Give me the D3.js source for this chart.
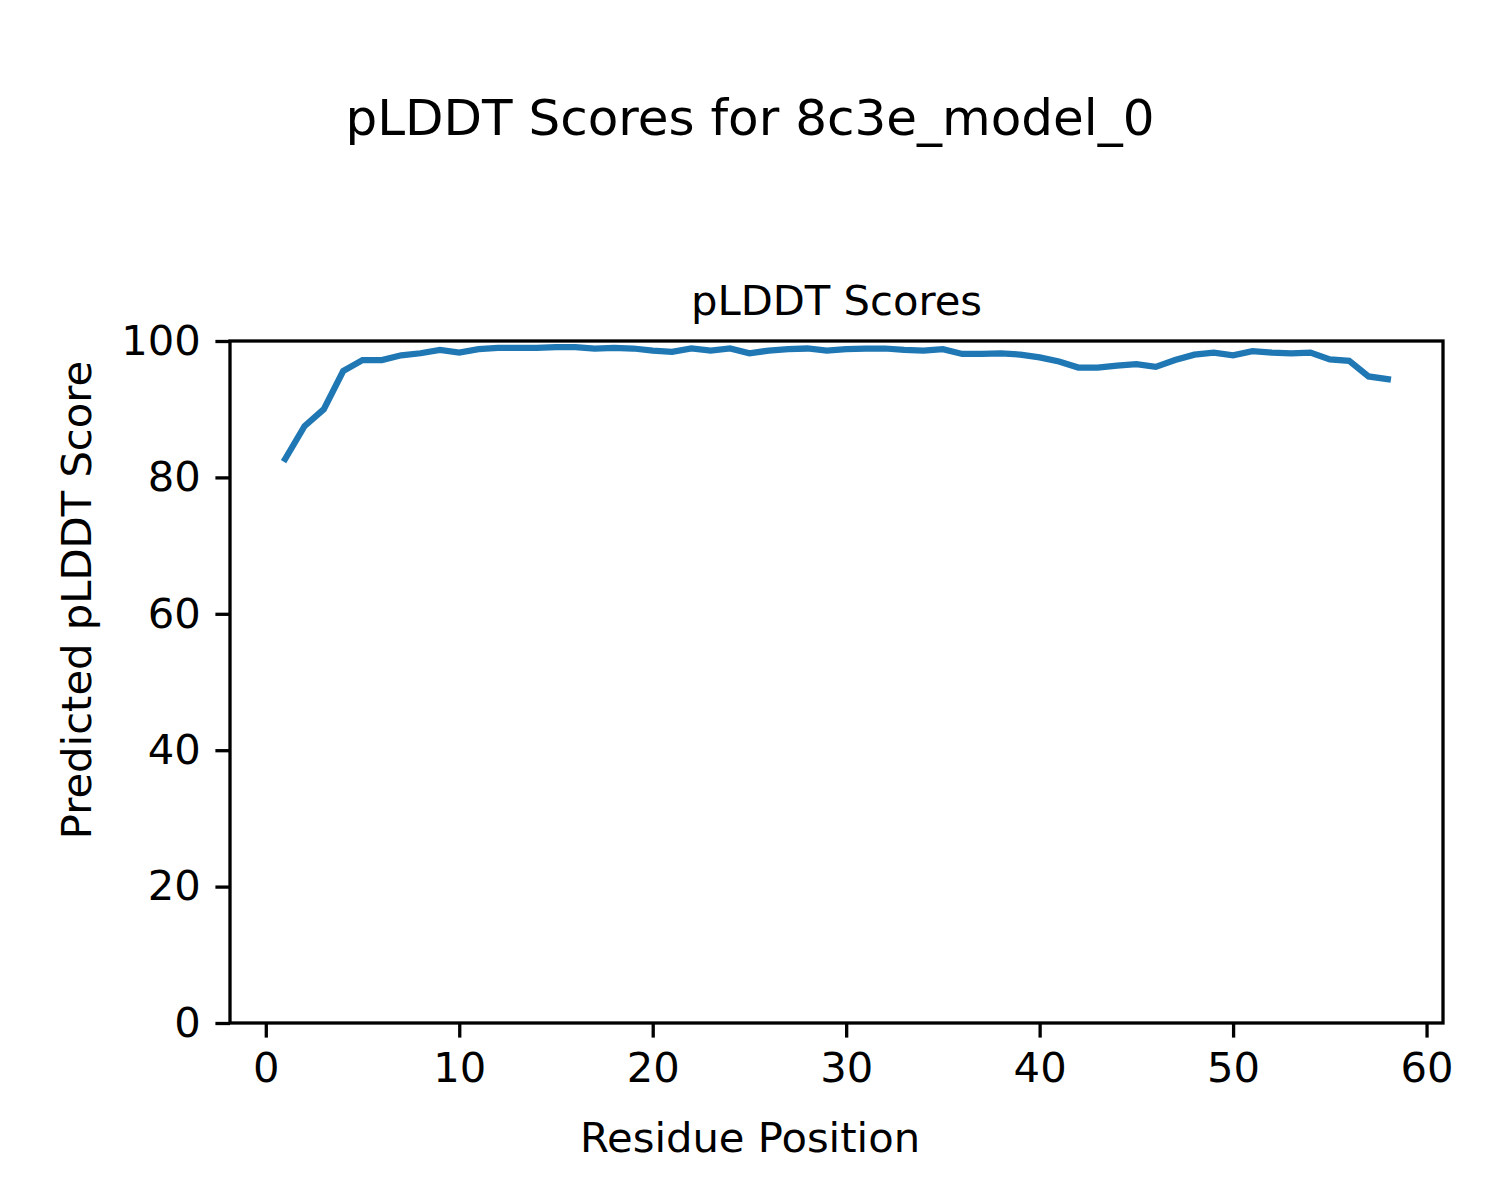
<!DOCTYPE html>
<html>
<head>
<meta charset="utf-8">
<script src="https://cdn.jsdelivr.net/npm/d3@7"></script>
<style>
  body { margin: 0; background: #fff; }
  svg text { font-family: "DejaVu Sans", sans-serif; fill: #000; }
</style>
</head>
<body>
<div id="chart"></div>
<script>
'use strict';

// residue positions 1..58 and their pLDDT scores
const residues = [
  1, 2, 3, 4, 5, 6, 7, 8, 9, 10,
  11, 12, 13, 14, 15, 16, 17, 18, 19, 20,
  21, 22, 23, 24, 25, 26, 27, 28, 29, 30,
  31, 32, 33, 34, 35, 36, 37, 38, 39, 40,
  41, 42, 43, 44, 45, 46, 47, 48, 49, 50,
  51, 52, 53, 54, 55, 56, 57, 58
];
const scores = [
  82.7, 87.5, 90.0, 95.6, 97.2, 97.2, 97.9, 98.2, 98.7, 98.3,
  98.8, 99.0, 99.0, 99.0, 99.1, 99.1, 98.9, 99.0, 98.9, 98.6,
  98.4, 98.9, 98.6, 98.9, 98.2, 98.6, 98.8, 98.9, 98.6, 98.8,
  98.9, 98.9, 98.7, 98.6, 98.8, 98.1, 98.1, 98.2, 98.0, 97.6,
  97.0, 96.1, 96.1, 96.4, 96.6, 96.2, 97.2, 98.0, 98.3, 97.9,
  98.5, 98.3, 98.2, 98.3, 97.3, 97.1, 94.8, 94.4
];
const xTicks = [0, 10, 20, 30, 40, 50, 60];
const yTicks = [0, 20, 40, 60, 80, 100];

const W = 1500, H = 1200;
const margin = { top: 341, right: 57, bottom: 177, left: 230 };
const iw = W - margin.left - margin.right;
const ih = H - margin.top - margin.bottom;

const svg = d3.select('#chart').append('svg')
  .attr('width', W)
  .attr('height', H);

// matplotlib-style 5% padding on x
const xmin = d3.min(residues), xmax = d3.max(residues);
const pad = (xmax - xmin) * 0.05;
const x = d3.scaleLinear().domain([xmin - pad, xmax + pad]).range([0, iw]);
const y = d3.scaleLinear().domain([0, 100]).range([ih, 0]);

const g = svg.append('g')
  .attr('transform', 'translate(' + margin.left + ',' + margin.top + ')');

const xAxis = g.append('g')
  .attr('transform', 'translate(0,' + ih + ')')
  .call(d3.axisBottom(x).tickValues(xTicks).tickSize(14.6).tickPadding(14.6));
const yAxis = g.append('g')
  .call(d3.axisLeft(y).tickValues(yTicks).tickSize(14.6).tickPadding(14.6));

[xAxis, yAxis].forEach(function(a){
  a.select('.domain').remove();
  a.selectAll('.tick line').attr('stroke', '#000').attr('stroke-width', 3.3);
  a.selectAll('.tick text')
    .style('font-family', '"DejaVu Sans", sans-serif')
    .style('font-size', '41.7px')
    .attr('fill', '#000');
});

const line = d3.line()
  .x(function(d, i){ return x(residues[i]); })
  .y(function(d){ return y(d); });

g.append('path')
  .datum(scores)
  .attr('fill', 'none')
  .attr('stroke', '#1f77b4')
  .attr('stroke-width', 6.25)
  .attr('stroke-linecap', 'square')
  .attr('d', line);

g.append('rect')
  .attr('width', iw)
  .attr('height', ih)
  .attr('fill', 'none')
  .attr('stroke', '#000')
  .attr('stroke-width', 3.3);

g.append('text')
  .attr('x', iw / 2)
  .attr('y', -26)
  .attr('text-anchor', 'middle')
  .style('font-size', '41.7px')
  .text('pLDDT Scores');

svg.append('text')
  .attr('x', W / 2)
  .attr('y', 135)
  .attr('text-anchor', 'middle')
  .style('font-size', '50px')
  .text('pLDDT Scores for 8c3e_model_0');

svg.append('text')
  .attr('x', W / 2)
  .attr('y', 1152)
  .attr('text-anchor', 'middle')
  .style('font-size', '41.7px')
  .text('Residue Position');

svg.append('text')
  .attr('transform', 'translate(91,600) rotate(-90)')
  .attr('text-anchor', 'middle')
  .style('font-size', '41.7px')
  .text('Predicted pLDDT Score');
</script>
</body>
</html>
